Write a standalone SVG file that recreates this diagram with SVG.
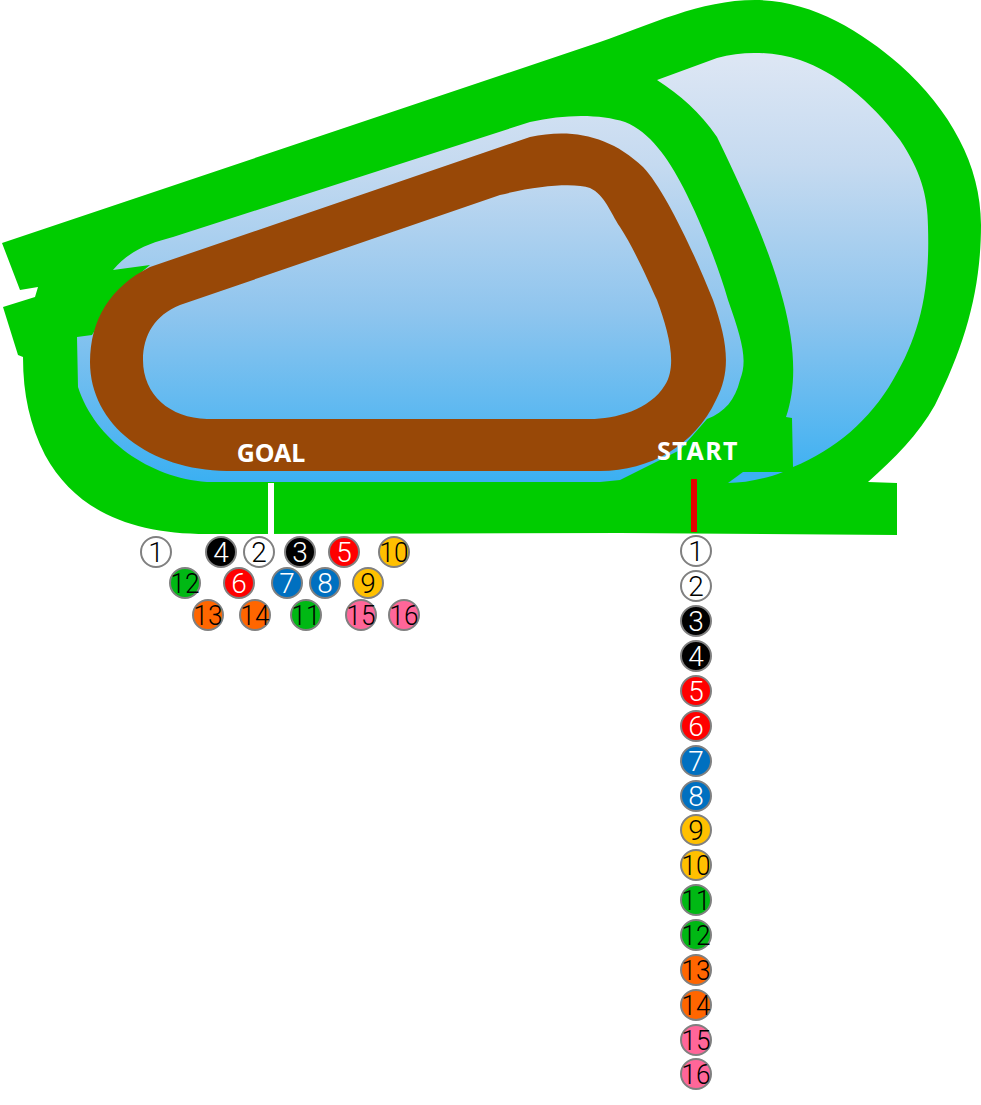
<svg xmlns="http://www.w3.org/2000/svg" width="981" height="1105" viewBox="0 0 981 1105">
<style>
.p{stroke:#808080;stroke-width:2}
.n{font-family:Roboto,"Noto Sans","Liberation Sans",sans-serif;font-size:28px;font-weight:300;text-anchor:middle}
.l{font-family:"Noto Sans","Liberation Sans",sans-serif;font-size:25px;font-weight:700;fill:#fff;text-anchor:middle}
.w{fill:#fff}.k{fill:#000}.b{fill:#000}.r{fill:#f00}.u{fill:#0070c0}.y{fill:#ffc000}.g{fill:#00b814}.o{fill:#f60}.m{fill:#f69}
</style>
<defs><linearGradient id="sky" gradientUnits="userSpaceOnUse" x1="0" y1="60" x2="0" y2="480"><stop offset="0" stop-color="#dce6f4"/><stop offset=".25" stop-color="#c5daf0"/><stop offset=".6" stop-color="#8fc5ee"/><stop offset="1" stop-color="#3cb0f2"/></linearGradient></defs>
<g id="turf"><path fill="#00cc00" d="M2 243L600 42C650 25 700 0 755 0C810 0 860 30 900 65C950 110 981 165 981 225C981 290 965 345 935 405C918 435 895 458 868 482L897 483L897 535L620 533L207 534C130 534 75 510 45 455C30 425 23 395 23 357L18 355L3 307L35 297L38 287L20 290Z"/></g>
<g id="infield-outer"><path fill="url(#sky)" d="M657 80L717 58C745 50 775 52 800 60C835 72 870 100 900 140C920 170 928 195 928 227C930 290 920 335 893 380C870 420 835 450 793 467L792 418L786 417C797 385 795 345 783 300C770 250 745 195 717 137C700 112 680 95 657 80Z"/>
<path fill="#3cb0f2" d="M728 483L743 472L783 472C765 479 745 483 728 483Z"/></g>
<g id="infield-inner"><path fill="url(#sky)" d="M113 270C130 250 150 243 173 237L530 122C565 114 600 114 625 122C650 132 668 158 683 187C700 220 718 265 728 300C742 340 748 360 740 380C735 400 725 412 707 419L680 450L620 480L600 482L207 482C150 478 95 440 78 387L77 337L92 335L120 290L150 265Z"/></g>
<g id="dirt"><path fill="#984807" fill-rule="evenodd" d="M90 362C90 320 110 287 150 267L530 137C570 128 610 135 643 167C665 190 695 255 713 300C727 340 732 370 716 400C695 445 650 471 600 471L227 471C150 470 90 425 90 362ZM143 360C143 335 155 315 180 305L500 195C540 185 575 183 590 188C605 195 610 212 620 227C635 250 650 285 657 300C668 330 678 365 665 385C650 410 615 419 590 419L207 419C170 418 143 395 143 360Z"/></g>
<g id="connectors"><rect x="268" y="483" width="6" height="52" fill="#fff"/><rect x="691" y="479" width="6" height="53" fill="#e60000"/></g>
<g id="label-goal"><text class="l" x="271" y="462">GOAL</text></g>
<g id="label-start"><text class="l" x="698" y="460" letter-spacing="1.5">START</text></g>
<g id="goal-posts">
<g id="g1"><circle class="p w" cx="156" cy="552" r="15"/><text class="n k" x="156" y="562">1</text></g>
<g id="g2"><circle class="p w" cx="259" cy="552" r="15"/><text class="n k" x="259" y="562">2</text></g>
<g id="g3"><circle class="p b" cx="300" cy="552" r="15"/><text class="n w" x="300" y="562">3</text></g>
<g id="g4"><circle class="p b" cx="221" cy="552" r="15"/><text class="n w" x="221" y="562">4</text></g>
<g id="g5"><circle class="p r" cx="344" cy="552" r="15"/><text class="n w" x="344" y="562">5</text></g>
<g id="g6"><circle class="p r" cx="239" cy="583" r="15"/><text class="n w" x="239" y="593">6</text></g>
<g id="g7"><circle class="p u" cx="287" cy="583" r="15"/><text class="n w" x="287" y="593">7</text></g>
<g id="g8"><circle class="p u" cx="325" cy="583" r="15"/><text class="n w" x="325" y="593">8</text></g>
<g id="g9"><circle class="p y" cx="368" cy="583" r="15"/><text class="n k" x="368" y="593">9</text></g>
<g id="g10"><circle class="p y" cx="394" cy="552" r="15"/><text class="n k" x="394" y="562" textLength="29" lengthAdjust="spacingAndGlyphs">10</text></g>
<g id="g11"><circle class="p g" cx="306" cy="615" r="15"/><text class="n k" x="306" y="625" textLength="29" lengthAdjust="spacingAndGlyphs">11</text></g>
<g id="g12"><circle class="p g" cx="185" cy="583" r="15"/><text class="n k" x="185" y="593" textLength="29" lengthAdjust="spacingAndGlyphs">12</text></g>
<g id="g13"><circle class="p o" cx="208" cy="615" r="15"/><text class="n k" x="208" y="625" textLength="29" lengthAdjust="spacingAndGlyphs">13</text></g>
<g id="g14"><circle class="p o" cx="255" cy="615" r="15"/><text class="n k" x="255" y="625" textLength="29" lengthAdjust="spacingAndGlyphs">14</text></g>
<g id="g15"><circle class="p m" cx="361" cy="615" r="15"/><text class="n k" x="361" y="625" textLength="29" lengthAdjust="spacingAndGlyphs">15</text></g>
<g id="g16"><circle class="p m" cx="404" cy="615" r="15"/><text class="n k" x="404" y="625" textLength="29" lengthAdjust="spacingAndGlyphs">16</text></g>
</g>
<g id="start-posts">
<g id="s1"><circle class="p w" cx="696" cy="551" r="15"/><text class="n k" x="696" y="561">1</text></g>
<g id="s2"><circle class="p w" cx="696" cy="586" r="15"/><text class="n k" x="696" y="596">2</text></g>
<g id="s3"><circle class="p b" cx="696" cy="621" r="15"/><text class="n w" x="696" y="631">3</text></g>
<g id="s4"><circle class="p b" cx="696" cy="656" r="15"/><text class="n w" x="696" y="666">4</text></g>
<g id="s5"><circle class="p r" cx="696" cy="691" r="15"/><text class="n w" x="696" y="701">5</text></g>
<g id="s6"><circle class="p r" cx="696" cy="726" r="15"/><text class="n w" x="696" y="736">6</text></g>
<g id="s7"><circle class="p u" cx="696" cy="761" r="15"/><text class="n w" x="696" y="771">7</text></g>
<g id="s8"><circle class="p u" cx="696" cy="796" r="15"/><text class="n w" x="696" y="806">8</text></g>
<g id="s9"><circle class="p y" cx="696" cy="830" r="15"/><text class="n k" x="696" y="840">9</text></g>
<g id="s10"><circle class="p y" cx="696" cy="865" r="15"/><text class="n k" x="696" y="875" textLength="29" lengthAdjust="spacingAndGlyphs">10</text></g>
<g id="s11"><circle class="p g" cx="696" cy="900" r="15"/><text class="n k" x="696" y="910" textLength="29" lengthAdjust="spacingAndGlyphs">11</text></g>
<g id="s12"><circle class="p g" cx="696" cy="935" r="15"/><text class="n k" x="696" y="945" textLength="29" lengthAdjust="spacingAndGlyphs">12</text></g>
<g id="s13"><circle class="p o" cx="696" cy="970" r="15"/><text class="n k" x="696" y="980" textLength="29" lengthAdjust="spacingAndGlyphs">13</text></g>
<g id="s14"><circle class="p o" cx="696" cy="1005" r="15"/><text class="n k" x="696" y="1015" textLength="29" lengthAdjust="spacingAndGlyphs">14</text></g>
<g id="s15"><circle class="p m" cx="696" cy="1040" r="15"/><text class="n k" x="696" y="1050" textLength="29" lengthAdjust="spacingAndGlyphs">15</text></g>
<g id="s16"><circle class="p m" cx="696" cy="1074" r="15"/><text class="n k" x="696" y="1084" textLength="29" lengthAdjust="spacingAndGlyphs">16</text></g>
</g>
</svg>
